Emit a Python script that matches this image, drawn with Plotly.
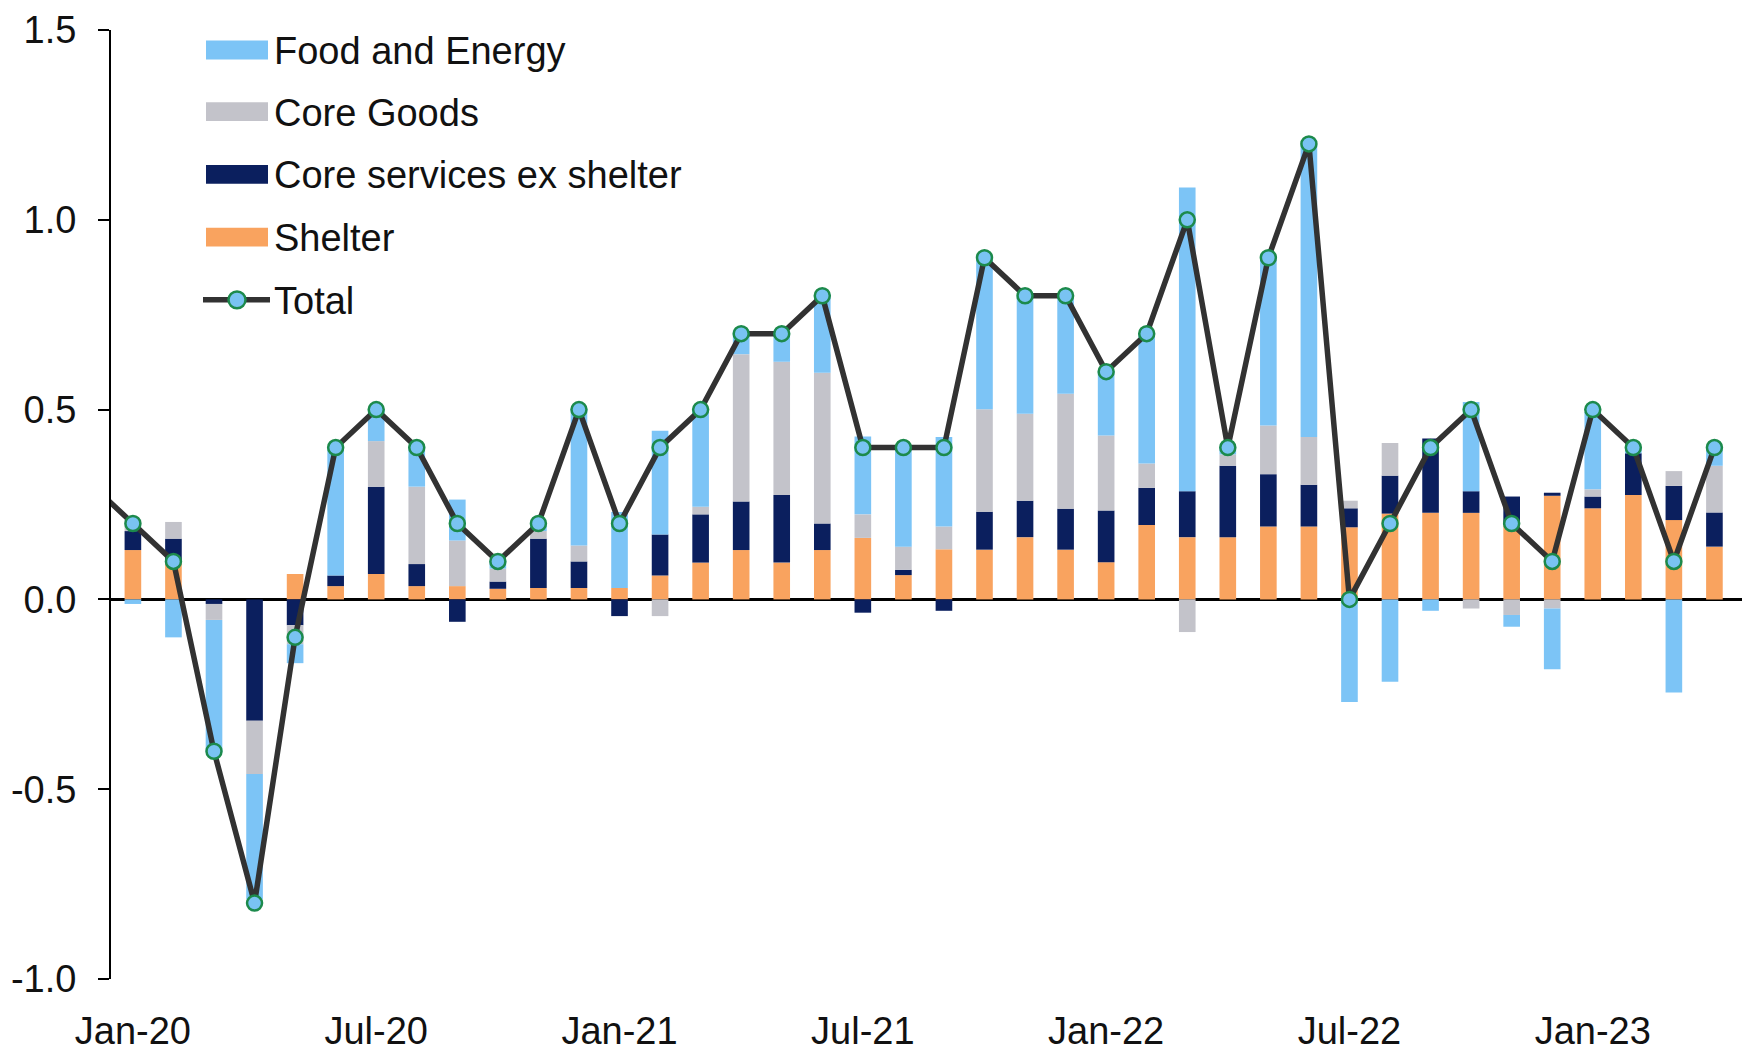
import plotly.graph_objects as go

# ---------------- data ----------------
months = ["Jan-20", "Feb-20", "Mar-20", "Apr-20", "May-20", "Jun-20", "Jul-20", "Aug-20", "Sep-20", "Oct-20",
          "Nov-20", "Dec-20", "Jan-21", "Feb-21", "Mar-21", "Apr-21", "May-21", "Jun-21", "Jul-21", "Aug-21",
          "Sep-21", "Oct-21", "Nov-21", "Dec-21", "Jan-22", "Feb-22", "Mar-22", "Apr-22", "May-22", "Jun-22",
          "Jul-22", "Aug-22", "Sep-22", "Oct-22", "Nov-22", "Dec-22", "Jan-23", "Feb-23", "Mar-23", "Apr-23"]

shelter = [0.13, 0.10, 0.00, 0.00, 0.067, 0.035, 0.067, 0.035, 0.035, 0.028,
           0.03, 0.03, 0.03, 0.063, 0.097, 0.13, 0.097, 0.13, 0.162, 0.064,
           0.132, 0.131, 0.164, 0.131, 0.098, 0.196, 0.164, 0.164, 0.192, 0.192,
           0.19, 0.226, 0.228, 0.228, 0.196, 0.273, 0.24, 0.275, 0.209, 0.139]

core_services = [0.05, 0.06, -0.012, -0.32, -0.068, 0.028, 0.23, 0.058, -0.059, 0.019,
                 0.13, 0.07, -0.044, 0.108, 0.127, 0.128, 0.178, 0.07, -0.035, 0.014,
                 -0.03, 0.10, 0.096, 0.108, 0.136, 0.098, 0.121, 0.188, 0.138, 0.11,
                 0.05, 0.10, 0.196, 0.057, 0.075, 0.008, 0.031, 0.11, 0.09, 0.09]

core_goods = [0.03, 0.044, -0.042, -0.14, -0.05, 0.0, 0.12, 0.204, 0.12, 0.034,
              0.02, 0.042, 0.0, -0.044, 0.02, 0.388, 0.351, 0.397, 0.062, 0.061,
              0.06, 0.27, 0.229, 0.303, 0.198, 0.064, -0.086, 0.03, 0.128, 0.126,
              0.02, 0.086, 0.0, -0.024, -0.041, -0.024, 0.019, 0.0, 0.039, 0.123]

food_energy = [-0.012, -0.10, -0.35, -0.33, -0.05, 0.34, 0.084, 0.108, 0.108, 0.02,
               0.02, 0.36, 0.20, 0.273, 0.256, 0.062, 0.081, 0.207, 0.205, 0.262,
               0.236, 0.40, 0.308, 0.255, 0.168, 0.341, 0.80, 0.02, 0.442, 0.77,
               -0.27, -0.217, -0.03, 0.235, -0.031, -0.16, 0.204, 0.015, -0.245, 0.048]

# total line; includes the preceding month so the line enters from the left edge
total_months = ["Dec-19"] + months
total = [0.3,
         0.2, 0.1, -0.4, -0.8, -0.1, 0.4, 0.5, 0.4, 0.2, 0.1,
         0.2, 0.5, 0.2, 0.4, 0.5, 0.7, 0.7, 0.8, 0.4, 0.4,
         0.4, 0.9, 0.8, 0.8, 0.6, 0.7, 1.0, 0.4, 0.9, 1.2,
         0.0, 0.2, 0.4, 0.5, 0.2, 0.1, 0.5, 0.4, 0.1, 0.4]

tick_labels = ["Jan-20", "Jul-20", "Jan-21", "Jul-21", "Jan-22", "Jul-22", "Jan-23"]
y_ticks = [-1.0, -0.5, 0.0, 0.5, 1.0, 1.5]
y_tick_text = ["-1.0", "-0.5", "0.0", "0.5", "1.0", "1.5"]

# ---------------- style ----------------
C_FOOD = "#7CC4F6"
C_GOODS = "#C3C3CA"
C_SVC = "#0B1F5E"
C_SHELTER = "#F9A35F"
C_LINE = "#323232"
C_MFILL = "#79C3F2"
C_MEDGE = "#1C8A4C"
FONT = "Liberation Sans, Arial, sans-serif"

W, H = 1742, 1052
ML, MR, MT, MB = 111, 0, 30, 69
PW, PH = W - ML - MR, H - MT - MB

fig = go.Figure()
for name, vals, col in [("Shelter", shelter, C_SHELTER),
                        ("Core services ex shelter", core_services, C_SVC),
                        ("Core Goods", core_goods, C_GOODS),
                        ("Food and Energy", food_energy, C_FOOD)]:
    fig.add_trace(go.Bar(x=months, y=vals, name=name, marker=dict(color=col, line=dict(width=0)),
                         showlegend=False))

fig.add_trace(go.Scatter(x=total_months, y=total, name="Total", mode="lines+markers",
                         line=dict(color=C_LINE, width=5.5),
                         marker=dict(size=15, color=C_MFILL, line=dict(color=C_MEDGE, width=2.5)),
                         showlegend=False))

# ---------------- manual legend (layout decoration) ----------------
def xp(px):
    return (px - ML) / PW

def yp(py):
    return (MT + PH - py) / PH

shapes = []
annotations = []
legend_items = [("Food and Energy", C_FOOD), ("Core Goods", C_GOODS),
                ("Core services ex shelter", C_SVC), ("Shelter", C_SHELTER)]
row_y = [50, 112, 175, 238, 301]
for (label, col), ry in zip(legend_items, row_y):
    shapes.append(dict(type="rect", xref="paper", yref="paper",
                       x0=xp(206), x1=xp(268), y0=yp(ry + 9.5), y1=yp(ry - 9.5),
                       fillcolor=col, line=dict(width=0), layer="above"))
    annotations.append(dict(text=label, xref="paper", yref="paper", x=xp(272), y=yp(ry + 1),
                            xanchor="left", yanchor="middle", showarrow=False,
                            font=dict(family=FONT, size=38, color="#111111")))
ry = row_y[4]
shapes.append(dict(type="line", xref="paper", yref="paper", x0=xp(203), x1=xp(270),
                   y0=yp(ry), y1=yp(ry), line=dict(color=C_LINE, width=5.5), layer="above"))
shapes.append(dict(type="circle", xref="paper", yref="paper", x0=xp(228.5), x1=xp(245.5),
                   y0=yp(ry + 8.5), y1=yp(ry - 8.5), fillcolor=C_MFILL,
                   line=dict(color=C_MEDGE, width=2.5), layer="above"))
annotations.append(dict(text="Total", xref="paper", yref="paper", x=xp(272), y=yp(ry + 1),
                        xanchor="left", yanchor="middle", showarrow=False,
                        font=dict(family=FONT, size=38, color="#111111")))

fig.update_layout(
    width=W, height=H, autosize=False,
    margin=dict(l=ML, r=MR, t=MT, b=MB, pad=0),
    paper_bgcolor="white", plot_bgcolor="white",
    barmode="relative", bargap=0.59,
    font=dict(family=FONT, size=38, color="#111111"),
    showlegend=False,
    shapes=shapes, annotations=annotations,
    xaxis=dict(type="category", categoryorder="array", categoryarray=total_months,
               range=[0.46, 40.68], tickmode="array", tickvals=tick_labels, ticktext=tick_labels,
               showline=False, showgrid=False, zeroline=False,
               ticks="outside", ticklen=18, tickcolor="rgba(0,0,0,0)",
               tickfont=dict(family=FONT, size=38, color="#111111"), tickangle=0),
    yaxis=dict(range=[-1.0, 1.5], tickmode="array", tickvals=y_ticks, ticktext=y_tick_text,
               showline=True, linecolor="black", linewidth=2,
               ticks="outside", ticklen=11, tickwidth=2, tickcolor="black",
               ticklabelstandoff=14,
               showgrid=False, zeroline=True, zerolinecolor="black", zerolinewidth=2.5,
               tickfont=dict(family=FONT, size=38, color="#111111")),
)

fig.write_html("out.html", config={"displayModeBar": False},
               post_script="document.body.style.margin='0';document.body.style.overflow='hidden';")
